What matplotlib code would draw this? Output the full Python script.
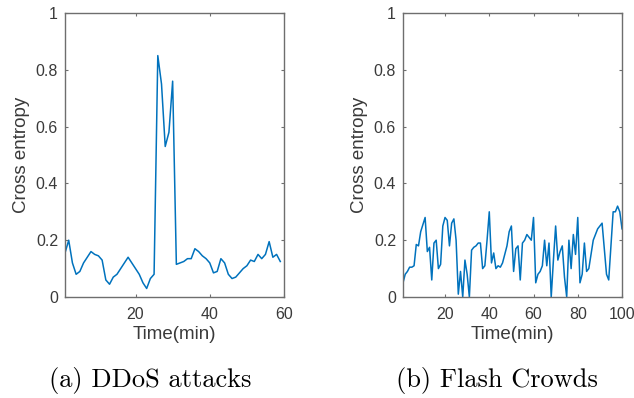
import matplotlib
matplotlib.use("Agg")
import matplotlib.pyplot as plt
import numpy as np

# DDoS attacks (panel a)
ddos_time = list(range(1, 60))
ddos_ce = [0.155, 0.20, 0.12, 0.08, 0.09, 0.12, 0.14, 0.16, 0.15, 0.145,
           0.13, 0.06, 0.045, 0.07, 0.08, 0.10, 0.12, 0.14, 0.12, 0.10,
           0.08, 0.05, 0.03, 0.065, 0.08, 0.85, 0.75, 0.53, 0.58, 0.76,
           0.115, 0.12, 0.125, 0.135, 0.135, 0.17, 0.16, 0.145, 0.135, 0.12,
           0.085, 0.09, 0.135, 0.12, 0.08, 0.065, 0.07, 0.085, 0.10, 0.11,
           0.13, 0.125, 0.15, 0.135, 0.15, 0.195, 0.14, 0.15, 0.125]

# Flash Crowds (panel b)
flash_time = list(range(1, 101))
flash_ce = [0.05, 0.08, 0.09, 0.105, 0.105, 0.11, 0.185, 0.18, 0.23, 0.255,
            0.28, 0.16, 0.175, 0.06, 0.19, 0.20, 0.10, 0.115, 0.25, 0.28,
            0.27, 0.18, 0.26, 0.275, 0.20, 0.01, 0.09, 0.0, 0.13, 0.08,
            0.0, 0.165, 0.175, 0.18, 0.19, 0.19, 0.10, 0.11, 0.20, 0.30,
            0.12, 0.155, 0.10, 0.11, 0.105, 0.12, 0.15, 0.18, 0.23, 0.25,
            0.09, 0.17, 0.18, 0.06, 0.19, 0.20, 0.22, 0.21, 0.20, 0.28,
            0.05, 0.08, 0.09, 0.11, 0.20, 0.11, 0.19, 0.0, 0.13, 0.25,
            0.13, 0.16, 0.18, 0.07, 0.0, 0.20, 0.10, 0.22, 0.15, 0.28,
            0.05, 0.08, 0.19, 0.09, 0.10, 0.15, 0.20, 0.22, 0.24, 0.25,
            0.26, 0.17, 0.08, 0.06, 0.18, 0.30, 0.30, 0.32, 0.30, 0.24]

ddos_xticks = [20, 40, 60]
flash_xticks = [20, 40, 60, 80, 100]
yticks = [0, 0.2, 0.4, 0.6, 0.8, 1]
ytick_labels = ["0", "0.2", "0.4", "0.6", "0.8", "1"]

captions = ["(a) DDoS attacks", "(b) Flash Crowds"]

W, H = 634, 398
fig = plt.figure(figsize=(W / 100, H / 100), dpi=100)

line_color = "#0072BD"
spine_color = "#6e6e6e"
text_color = "#3a3a3a"
sans = ["Liberation Sans", "DejaVu Sans"]


def make_axes(rect, t, v, xlim, xticks):
    ax = fig.add_axes(rect)
    ax.plot(t, v, color=line_color, linewidth=1.1)
    ax.set_xlim(*xlim)
    ax.set_ylim(0, 1)
    ax.set_xticks(xticks)
    ax.set_xticklabels([str(x) for x in xticks], family=sans, fontsize=11.5, color=text_color)
    ax.set_yticks(yticks)
    ax.set_yticklabels(ytick_labels, family=sans, fontsize=11.5, color=text_color)
    ax.tick_params(direction="in", length=2.5, width=0.8, color=spine_color,
                   top=True, right=True)
    ax.tick_params(axis="x", pad=7)
    ax.tick_params(axis="y", pad=5)
    for s in ax.spines.values():
        s.set_color(spine_color)
        s.set_linewidth(1.0)
    ax.set_xlabel("Time(min)", family=sans, fontsize=13.5, color=text_color, labelpad=3)
    ax.set_ylabel("Cross entropy", family=sans, fontsize=13.5, color=text_color, labelpad=4)
    return ax


def rect(l, r, top, bottom):
    return [l / W, (H - bottom) / H, (r - l) / W, (bottom - top) / H]


ax1 = make_axes(rect(65, 284, 13, 297), ddos_time, ddos_ce, (1, 60), ddos_xticks)
ax2 = make_axes(rect(403, 622, 13, 297), flash_time, flash_ce, (1, 100), flash_xticks)

fig.text(150 / W, 1 - 381 / H, captions[0], family="cmr10", fontsize=19,
         ha="center", va="center", color="black")
fig.text(497 / W, 1 - 381 / H, captions[1], family="cmr10", fontsize=19,
         ha="center", va="center", color="black")

fig.savefig("out.png", dpi=100)
